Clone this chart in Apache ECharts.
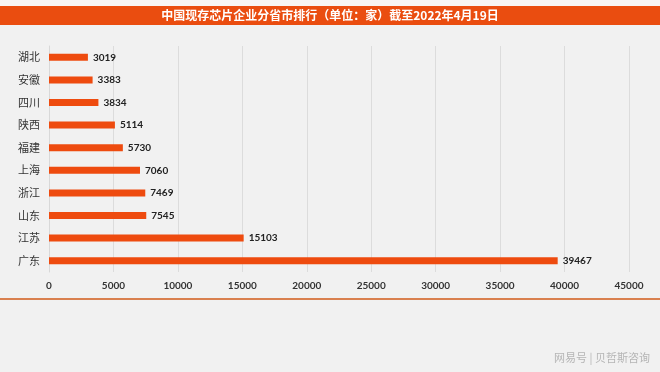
<!DOCTYPE html>
<html>
<head>
<meta charset="utf-8">
<script src="https://cdn.jsdelivr.net/npm/echarts@6/dist/echarts.min.js"></script>
<style>
html,body{margin:0;padding:0;background:#f1f1f1;}
#c{width:660px;height:372px;}
</style>
</head>
<body>
<div id="c"></div>
<script>
const categories = ['广东','江苏','山东','浙江','上海','福建','陕西','四川','安徽','湖北'];
const values = [39467,15103,7545,7469,7060,5730,5114,3834,3383,3019];
const xTicks = [0,5000,10000,15000,20000,25000,30000,35000,40000,45000];
const titleText = '中国现存芯片企业分省市排行（单位：家）截至2022年4月19日';
const sourceText = '网易号 | 贝哲斯咨询';

const chart = echarts.init(document.getElementById('c'), null, {renderer:'canvas'});
chart.setOption({
  backgroundColor:'#f1f1f1',
  animation:false,
  graphic:[
    {type:'rect', left:0, top:0, shape:{width:660,height:6}, style:{fill:'#f8f5f4'}, z:0},
    {type:'rect', left:0, top:6, shape:{width:660,height:19}, style:{fill:'#ea4d10'}, z:1},
    {type:'text', left:'center', top:9, style:{text:titleText, fill:'#ffffff', font:'bold 12px "Noto Sans CJK SC"'}, z:2},
    {type:'rect', left:0, top:298, shape:{width:660,height:2}, style:{fill:'#d9804f'}, z:1},
    {type:'text', right:10, top:352, style:{text:sourceText, fill:'#b5b5b5', font:'11px "Noto Sans CJK SC"'}, z:2}
  ],
  grid:{left:49, right:31, top:46, bottom:100, containLabel:false},
  xAxis:{
    type:'value', min:0, max:45000, interval:5000,
    axisLine:{show:false}, axisTick:{show:false},
    splitLine:{show:true, lineStyle:{color:'#dcdcdc', width:1}},
    axisLabel:{color:'#333', fontFamily:'Lato', fontWeight:'bold', fontSize:10, margin:9,
      formatter:function(v){return xTicks.indexOf(v)>=0?String(v):'';}}
  },
  yAxis:{
    type:'category', data:categories,
    axisLine:{show:true, lineStyle:{color:'#d8d8d8'}}, axisTick:{show:false},
    axisLabel:{color:'#333', fontFamily:'"Noto Sans CJK SC"', fontSize:11, margin:9}
  },
  series:[{
    type:'bar', data:values, barWidth:7,
    itemStyle:{color:'#ee4b0f'},
    label:{show:true, position:'right', distance:5, color:'#222', fontFamily:'Lato', fontWeight:'bold', fontSize:10}
  }]
});
</script>
</body>
</html>
